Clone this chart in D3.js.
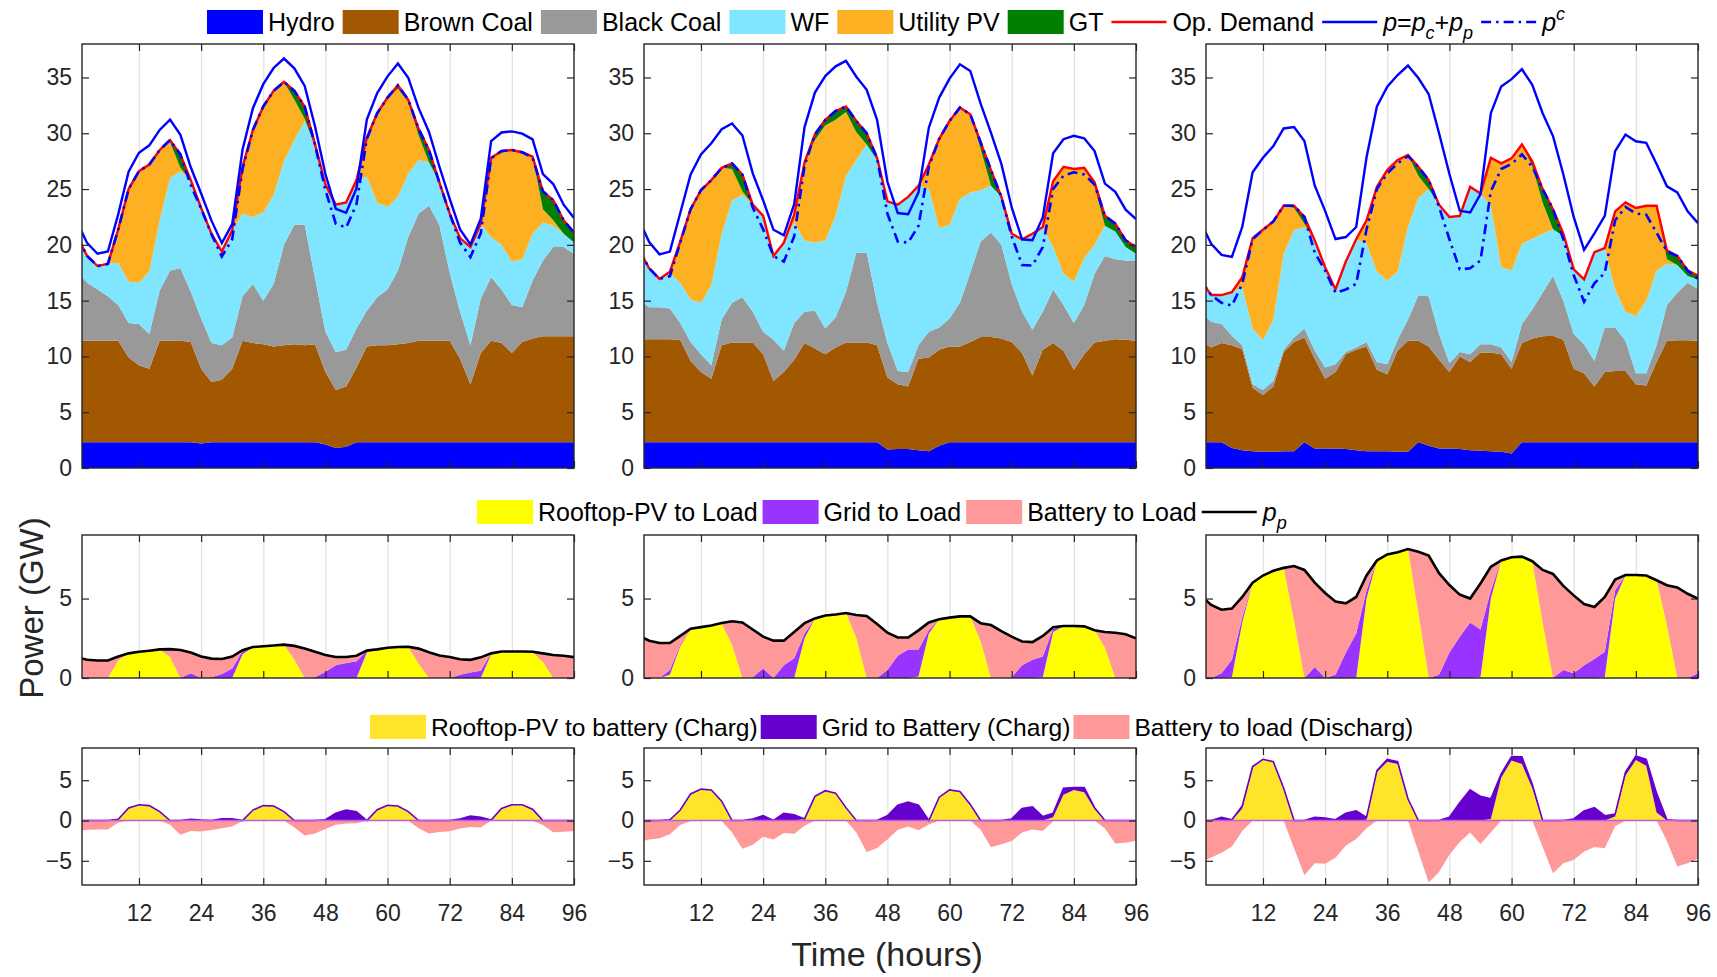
<!DOCTYPE html>
<html>
<head>
<meta charset="utf-8">
<script src="https://d3js.org/d3.v7.min.js"></script>
<style>
  body { margin: 0; background: #fff; }
  svg { font-family: "Liberation Sans", Arial, Helvetica, sans-serif; }
</style>
</head>
<body>
<div id="chart"></div>
<script>
// sample times (hours), every 2 h
var hours = d3.range(0, 97, 2);
var xTicks = [12, 24, 36, 48, 60, 72, 84, 96];

// ---------- generation (GW), one sub-array per case ----------
var hydro = [
  [2.3,2.3,2.3,2.3,2.3,2.3,2.3,2.3,2.3,2.3,2.3,2.3,2.2,2.3,2.3,2.3,2.3,2.3,2.3,2.3,2.3,2.3,2.3,2.3,2.1,1.8,1.9,2.3,2.3,2.3,2.3,2.3,2.3,2.3,2.3,2.3,2.3,2.3,2.3,2.3,2.3,2.3,2.3,2.3,2.3,2.3,2.3,2.3,2.3],
  [2.3,2.3,2.3,2.3,2.3,2.3,2.3,2.3,2.3,2.3,2.3,2.3,2.3,2.3,2.3,2.3,2.3,2.3,2.3,2.3,2.3,2.3,2.3,2.3,1.65,1.7,1.7,1.6,1.5,2.0,2.3,2.3,2.3,2.3,2.3,2.3,2.3,2.3,2.3,2.3,2.3,2.3,2.3,2.3,2.3,2.3,2.3,2.3,2.3],
  [2.3,2.3,2.3,1.8,1.6,1.5,1.45,1.45,1.5,1.5,2.3,1.75,1.75,1.75,1.7,1.6,1.5,1.5,1.5,1.45,1.45,2.3,2.0,1.75,1.75,1.7,1.6,1.55,1.5,1.45,1.3,2.3,2.3,2.3,2.3,2.3,2.3,2.3,2.3,2.3,2.3,2.3,2.3,2.3,2.3,2.3,2.3,2.3,2.3]
];
var brownCoal = [
  [9.1,9.1,9.1,9.1,9.1,7.6,6.9,6.6,9.1,9.1,9.1,9.0,6.7,5.4,5.6,6.6,9.1,8.9,8.8,8.6,8.7,8.8,8.7,8.8,6.5,5.2,5.4,6.7,8.6,8.7,8.7,8.8,8.9,9.1,9.1,9.1,9.1,7.5,5.2,8.0,9.1,8.9,8.0,9.0,9.3,9.5,9.5,9.5,9.5],
  [9.25,9.25,9.25,9.25,9.2,7.3,6.3,5.7,8.7,8.95,8.95,8.95,7.9,5.5,6.3,7.4,8.9,8.4,7.9,8.5,8.95,8.95,8.95,8.7,6.45,5.8,5.6,8.2,8.4,8.6,8.6,8.6,9.0,9.45,9.45,9.3,9.0,8.0,6.0,8.3,8.9,8.2,6.5,7.9,8.95,9.1,9.25,9.2,9.1],
  [9.1,8.5,8.9,9.2,9.05,5.7,5.1,5.85,8.9,9.8,9.4,8.05,6.25,6.85,8.5,9.0,9.4,7.3,6.9,9.05,9.95,9.1,8.9,7.95,6.85,8.3,7.9,8.8,8.85,8.75,7.6,8.9,9.3,9.5,9.55,9.2,6.6,6.2,5.0,6.3,6.4,6.4,5.2,5.1,7.2,9.1,9.15,9.15,9.1]
];
var blackCoal = [
  [6.2,5.2,4.6,4.0,3.2,3.1,3.7,3.1,4.5,6.3,6.5,4.5,4.5,3.5,3.1,2.8,4.0,5.3,3.9,5.6,9.0,10.7,10.8,5.9,3.6,3.4,3.3,3.5,3.2,4.3,5.0,6.6,9.5,11.4,12.1,10.4,6.1,4.2,3.5,4.9,5.7,4.8,4.3,3.1,5.2,6.8,8.0,8.0,7.4],
  [3.55,2.85,2.85,2.75,1.5,1.7,1.6,1.2,2.3,3.55,4.05,2.75,2.0,3.7,1.9,3.3,2.8,3.4,2.3,2.7,4.55,8.05,8.05,3.8,3.1,1.2,1.3,1.2,2.3,2.0,2.5,3.9,6.2,8.55,9.35,8.4,5.2,3.7,4.1,3.4,4.8,4.1,4.2,4.4,6.15,7.6,7.15,7.1,7.2],
  [2.6,2.3,1.7,0.85,0.35,0.3,0.45,0.5,0.2,0.4,0.8,0.7,1.0,0.7,0.2,0.2,0.4,0.7,0.9,1.0,1.9,4.05,4.5,2.3,0.8,0.4,0.7,0.75,0.75,0.6,0.6,1.7,2.6,3.9,5.35,3.5,3.1,2.6,2.3,4.0,3.9,2.7,1.0,1.1,1.5,3.2,4.25,5.15,4.65]
];
var windFarm = [
  [2.9,2.4,2.1,2.9,3.8,3.7,3.7,5.6,6.3,8.3,8.7,10.0,9.9,9.8,8.4,9.6,7.4,6.0,7.9,8.0,7.5,7.6,9.3,11.8,13.2,13.2,13.2,13.3,12.0,8.5,7.4,6.6,5.7,4.8,3.9,3.8,5.3,6.6,8.8,6.7,3.6,4.0,3.9,4.3,4.2,3.4,1.9,1.2,1.0],
  [4.1,3.5,2.55,3.1,3.6,3.8,4.6,7.2,7.7,9.2,9.2,9.6,10.4,7.5,9.7,9.0,6.4,6.1,7.9,9.1,10.4,8.3,9.7,12.8,12.7,14.9,15.7,14.3,12.8,8.9,8.4,9.3,7.2,4.6,4.2,4.3,4.5,6.5,8.6,7.6,3.8,2.8,3.7,4.2,2.6,2.7,2.5,1.2,0.6],
  [2.8,2.4,2.6,3.9,5.2,5.0,4.45,5.5,8.6,9.6,9.1,9.9,9.0,6.7,8.1,9.7,8.8,8.1,7.5,6.1,8.3,8.75,9.6,11.6,13.1,12.2,15.0,13.5,12.4,7.2,8.2,7.2,6.35,5.3,4.2,5.8,5.8,5.8,9.75,7.1,3.4,2.6,5.1,6.5,6.7,3.7,2.5,0.6,0.85]
];
var utilityPV = [
  [0,0,0,0,3.0,8.3,10.0,9.6,6.3,3.2,0.3,0,0,0,0,0,4.2,7.8,9.5,9.3,7.1,3.6,0.2,0,0,0,0,0,3.5,8.0,9.8,9.7,6.4,2.2,0,0,0,0,0,0,7.1,8.4,10.0,9.6,6.9,1.2,0.5,0,0],
  [0,0,0,0.2,3.7,8.1,10.1,9.4,5.9,2.8,0.3,0,0,0,0,0.7,7.0,9.2,10.3,8.6,5.7,2.5,0,0,0,0,0,0,2.2,8.0,9.3,8.2,7.0,3.7,0,0,0,0,0,0,5.9,9.6,10.1,8.1,5.2,0,0,0,0],
  [0,0,0,0,0.9,8.1,9.9,8.8,4.3,2.0,0.3,0,0,0,0,0,2.1,7.6,9.9,10.0,6.45,2.0,0,0,0,0,0,0,4.3,9.3,10.05,8.9,6.5,2.8,0,0,0,0,0,0,7.0,9.8,9.7,8.5,5.8,0.4,0,0,0]
];
var gasTurbine = [
  [0.3,0,0,0,0,0,0,0,0,0.2,1.2,0,0,0,0,0,0,0,0,0,0,0.8,1.1,0.2,0,0,0,0,0,0,0,0.3,0.2,0.6,1.1,0,0,0,0,0,0,0,0,0,0,1.6,1.8,1.2,0.9],
  [0.4,0,0,0,0,0,0,0,0,0.5,1.5,0,0,0,0,0,0,0.5,0.5,0.8,0.5,1.0,1.0,0.2,0,0,0,0,0,0,0,0,0,0.6,1.4,0,0,0,0,0,0,0,0,0,0.4,0.9,0.7,0.6,0.6],
  [0,0,0,0,0,0,0,0,0,0.2,0.6,0,0,0,0,0,0,0,0,0,0,0.8,0.8,0,0,0,0,0,0,0,0,0,0.45,1.2,1.8,0.2,0,0,0,0,0,0,0,0,0,0.8,0.8,0.5,0.35]
];

// ---------- prosumer supply to load (GW) ----------
var rooftopToLoad = [
  [0,0,0,0,1.1,1.55,1.65,1.72,1.8,1.3,0,0,0,0,0,0,1.5,1.95,2.0,2.05,2.1,1.15,0,0,0,0,0,0,1.6,1.8,1.9,1.95,1.95,0.9,0,0,0,0,0,0,1.5,1.65,1.65,1.65,1.62,1.0,0,0,0],
  [0,0,0,0.2,2.0,3.05,3.2,3.3,3.4,2.1,0,0,0,0,0,0,2.5,3.75,3.93,4.0,4.09,2.5,0,0,0,0,0,0.1,2.8,3.7,3.8,3.88,3.88,2.3,0,0,0,0,0,0.05,2.9,3.27,3.27,3.25,3.0,1.9,0,0,0],
  [0,0,0,0.05,3.5,6.0,6.45,6.75,6.9,3.6,0,0,0,0,0,0,5.0,7.4,7.78,7.92,8.12,4.1,0,0,0,0,0,0.05,5.0,7.4,7.6,7.64,7.35,3.5,0,0,0,0,0,0.05,5.0,6.48,6.48,6.45,6.15,3.3,0,0,0]
];
var gridToLoad = [
  [0,0,0,0,0,0,0,0,0,0,0,0.3,0,0.05,0.25,0.6,0.2,0,0,0,0,0,0,0.05,0.4,0.8,0.95,1.05,0.1,0,0,0,0,0,0,0,0,0.2,0.35,0.45,0.05,0,0,0,0,0,0,0,0],
  [0,0,0,0.3,0.1,0,0,0,0,0,0,0.05,0.6,0,0.8,1.25,0.3,0,0,0,0,0,0,0,0.5,1.4,1.8,1.7,0.2,0,0,0,0,0,0,0,0.05,0.8,1.15,1.3,0.2,0,0,0,0,0,0,0,0],
  [0,0,0.3,1.1,0.3,0,0,0,0,0,0,0.7,0,0.2,1.6,2.8,0.5,0,0,0,0,0,0,0.2,1.6,2.6,3.5,3.0,0.5,0,0,0,0,0,0,0.5,0.3,0.8,1.2,1.6,0.5,0,0,0,0,0,0,0,0.3]
];
var batteryToLoad = [
  [1.3,1.15,1.1,1.1,0.25,0,0,0,0,0.52,1.76,1.3,1.35,1.17,0.95,0.75,0.05,0,0,0,0,0.87,1.85,1.6,1.05,0.52,0.37,0.35,0.03,0,0,0,0.02,0.95,1.62,1.42,1.32,0.98,0.79,0.85,0,0.02,0.02,0.02,0.03,0.55,1.45,1.4,1.31],
  [2.65,2.35,2.2,1.7,0.55,0.05,0,0.01,0.06,1.47,3.5,3.0,2.0,2.35,1.55,1.65,0.65,0,0,0,0,1.47,3.9,3.4,2.35,1.15,0.75,1.2,0.5,0,0,0,0,1.15,3.33,2.95,2.55,1.5,1.11,1.3,0.1,0,0,0,0,0.99,2.85,2.75,2.5],
  [5.2,4.6,4.0,3.22,1.3,0,0,0,0.03,3.45,6.8,5.3,5.35,4.62,3.1,2.3,0.95,0,0,0,0,3.85,7.7,6.4,4.25,2.65,1.5,2.9,1.5,0,0,0,0,3.3,6.55,5.3,4.9,3.85,3.27,3.45,0.7,0,0,0,0,2.54,5.7,5.3,4.7]
];

// ---------- battery charging (GW) ----------
var rooftopToBattery = [
  [0,0,0,0,0.15,1.55,1.95,1.85,1.1,0,0,0,0,0,0,0,0,1.3,1.85,1.8,1.1,0,0,0,0,0,0,0,0,1.35,1.9,1.8,1.1,0,0,0,0,0,0,0,0.05,1.5,1.95,1.95,1.3,0,0,0,0],
  [0,0,0,0,1.3,3.3,3.9,3.8,2.4,0,0,0,0,0,0,0,0.2,3.0,3.7,3.4,1.6,0,0,0,0,0,0,0,0,2.9,3.8,3.6,2.0,0,0,0,0,0,0,0,0.4,3.2,3.8,3.5,1.4,0,0,0,0],
  [0,0,0,0,1.5,6.6,7.6,7.3,4.0,0,0,0,0,0,0,0,0.1,6.0,7.3,7.0,2.6,0,0,0,0,0,0,0,0.2,5.3,7.45,7.0,4.0,0,0,0,0,0,0,0,0.5,5.6,7.5,6.8,1.0,0,0,0,0]
];
var gridToBattery = [
  [0,0,0,0,0,0,0,0,0,0,0,0.15,0.05,0,0.2,0.2,0,0,0,0,0,0,0,0,0.1,0.9,1.3,1.1,0,0,0,0,0,0,0,0,0,0.2,0.55,0.4,0,0,0,0,0.1,0,0,0,0],
  [0,0,0,0.1,0,0,0,0,0,0,0,0.2,0.6,0,0.9,0.7,0,0,0,0,0,0,0,0,0.6,1.9,2.3,1.9,0,0,0,0,0,0,0,0,0.2,1.5,1.7,0.5,0.5,0.8,0.3,0.6,0.2,0,0,0,0],
  [0,0,0.4,0.1,0.3,0.1,0,0,0,0,0,0.4,0.3,0.1,0.9,1.2,0.3,0.2,0.3,0.3,0.1,0,0,0,0.4,2.2,3.8,3.0,2.5,0.5,0.5,0.9,0.5,0,0,0,0.2,1.2,1.6,0.6,0.3,0.4,0.5,0.8,2.4,0.1,0,0,0]
];

// ---------- layout ----------
var W = 1717, H = 977;
var colLeft = [82, 644, 1206], colWidth = 492;
var rowBox = [
  { top: 44,  bottom: 468, domain: [0, 38],  ticks: [0, 5, 10, 15, 20, 25, 30, 35] },
  { top: 535, bottom: 678, domain: [0, 9],   ticks: [0, 5] },
  { top: 748, bottom: 885, domain: [-8, 9],  ticks: [-5, 0, 5] }
];
var ink = "#262626";

var genKeys = ["hydro", "brownCoal", "blackCoal", "windFarm", "utilityPV", "gasTurbine"];
var genData = { hydro: hydro, brownCoal: brownCoal, blackCoal: blackCoal, windFarm: windFarm, utilityPV: utilityPV, gasTurbine: gasTurbine };
var genColor = { hydro: "#0000ff", brownCoal: "#a25800", blackCoal: "#999999", windFarm: "#80e5ff", utilityPV: "#fdb022", gasTurbine: "#008000" };
var proKeys = ["rooftopToLoad", "gridToLoad", "batteryToLoad"];
var proData = { rooftopToLoad: rooftopToLoad, gridToLoad: gridToLoad, batteryToLoad: batteryToLoad };
var proColor = { rooftopToLoad: "#ffff00", gridToLoad: "#9933ff", batteryToLoad: "#ff9999" };
var chgKeys = ["rooftopToBattery", "gridToBattery"];
var chgData = { rooftopToBattery: rooftopToBattery, gridToBattery: gridToBattery };
var chgColor = { rooftopToBattery: "#ffe52a", gridToBattery: "#6600cc" };

var svg = d3.select("#chart").append("svg").attr("width", W).attr("height", H);
var defs = svg.append("defs");

function tableFor(keys, src, c) {
  return hours.map(function(t, i) {
    var row = { t: t };
    keys.forEach(function(k) { row[k] = src[k][c][i]; });
    return row;
  });
}

for (var c = 0; c < 3; c++) {
  var x = d3.scaleLinear().domain([1, 96]).range([colLeft[c], colLeft[c] + colWidth]);

  for (var r = 0; r < 3; r++) {
    var rb = rowBox[r];
    var y = d3.scaleLinear().domain(rb.domain).range([rb.bottom, rb.top]);
    var g = svg.append("g");
    var clipId = "clip-" + r + "-" + c;
    defs.append("clipPath").attr("id", clipId).append("rect")
      .attr("x", x.range()[0]).attr("y", rb.top)
      .attr("width", colWidth).attr("height", rb.bottom - rb.top);

    // vertical grid
    var grid = g.append("g").attr("transform", "translate(0," + rb.bottom + ")")
      .call(d3.axisBottom(x).tickValues([12, 24, 36, 48, 60, 72, 84]).tickSize(-(rb.bottom - rb.top)).tickFormat(""));
    grid.select(".domain").remove();
    grid.selectAll("line").attr("stroke", "#e3e3e3").attr("stroke-width", 1.3);

    var plot = g.append("g").attr("clip-path", "url(#" + clipId + ")");
    var area = d3.area().x(function(d) { return x(d.data.t); })
      .y0(function(d) { return y(d[0]); }).y1(function(d) { return y(d[1]); });
    var line = d3.line().x(function(d) { return x(d.t); }).y(function(d) { return y(d.v); });

    if (r === 0) {
      var gt = tableFor(genKeys, genData, c);
      var st = d3.stack().keys(genKeys)(gt);
      plot.selectAll("path.a").data(st).enter().append("path")
        .attr("d", area).attr("fill", function(s) { return genColor[s.key]; });

      var opDemand = [], pc = [], p = [];
      hours.forEach(function(t, i) {
        var dem = d3.sum(genKeys, function(k) { return genData[k][c][i]; });
        var pp = rooftopToLoad[c][i] + gridToLoad[c][i] + batteryToLoad[c][i];
        var pcv = dem - gridToLoad[c][i] - gridToBattery[c][i];
        opDemand.push({ t: t, v: dem });
        pc.push({ t: t, v: pcv });
        p.push({ t: t, v: pcv + pp });
      });
      plot.append("path").attr("d", line(opDemand)).attr("fill", "none").attr("stroke", "#ff0000").attr("stroke-width", 2.4);
      plot.append("path").attr("d", line(p)).attr("fill", "none").attr("stroke", "#0000ff").attr("stroke-width", 2.4);
      plot.append("path").attr("d", line(pc)).attr("fill", "none").attr("stroke", "#0000ff").attr("stroke-width", 2.6)
        .attr("stroke-dasharray", "10,5,2.5,5");
    } else if (r === 1) {
      var pt = tableFor(proKeys, proData, c);
      var sp = d3.stack().keys(proKeys)(pt);
      plot.selectAll("path.a").data(sp).enter().append("path")
        .attr("d", area).attr("fill", function(s) { return proColor[s.key]; });
      var ppLine = hours.map(function(t, i) {
        return { t: t, v: rooftopToLoad[c][i] + gridToLoad[c][i] + batteryToLoad[c][i] };
      });
      plot.append("path").attr("d", line(ppLine)).attr("fill", "none").attr("stroke", "#000").attr("stroke-width", 2.6);
    } else {
      var dis = hours.map(function(t, i) { return { t: t, v: -batteryToLoad[c][i] }; });
      plot.append("path")
        .attr("d", d3.area().x(function(d) { return x(d.t); }).y0(y(0)).y1(function(d) { return y(d.v); })(dis))
        .attr("fill", "#ff9999");
      var ct = tableFor(chgKeys, chgData, c);
      var sc = d3.stack().keys(chgKeys)(ct);
      plot.selectAll("path.a").data(sc).enter().append("path")
        .attr("d", area).attr("fill", function(s) { return chgColor[s.key]; });
      plot.append("path")
        .attr("d", d3.line().x(function(d) { return x(d.data.t); }).y(function(d) { return y(d[1]); })(sc[1]))
        .attr("fill", "none").attr("stroke", "#6600cc").attr("stroke-width", 1.6);
      plot.append("line").attr("x1", x(1)).attr("x2", x(96)).attr("y1", y(0)).attr("y2", y(0))
        .attr("stroke", "#c05ee8").attr("stroke-width", 1.6);
    }

    // axes: inward ticks on all four sides
    var yl = g.append("g").attr("transform", "translate(" + x(1) + ",0)")
      .call(d3.axisLeft(y).tickValues(rb.ticks).tickSize(-7).tickPadding(10));
    var yr = g.append("g").attr("transform", "translate(" + x(96) + ",0)")
      .call(d3.axisRight(y).tickValues(rb.ticks).tickSize(-7).tickFormat(""));
    var xt = g.append("g").attr("transform", "translate(0," + rb.top + ")")
      .call(d3.axisTop(x).tickValues(xTicks).tickSize(-7).tickFormat(""));
    var xb = g.append("g").attr("transform", "translate(0," + rb.bottom + ")")
      .call(d3.axisBottom(x).tickValues(xTicks).tickSize(-7).tickPadding(20)
        .tickFormat(r === 2 ? d3.format("d") : ""));
    [yl, yr, xt, xb].forEach(function(a) {
      a.select(".domain").remove();
      a.selectAll("line").attr("stroke", ink).attr("stroke-width", 1.2);
      a.selectAll("text").attr("fill", ink).attr("font-size", 23)
        .attr("font-family", "'Liberation Sans', Arial, sans-serif");
    });

    g.append("rect").attr("x", x(1)).attr("y", rb.top)
      .attr("width", colWidth).attr("height", rb.bottom - rb.top)
      .attr("fill", "none").attr("stroke", ink).attr("stroke-width", 1.4);
  }
}

// ---------- legends ----------
function legend(x0, yc, fs, gap, items) {
  var g = svg.append("g");
  var xpos = x0;
  items.forEach(function(it) {
    if (it.box) {
      g.append("rect").attr("x", xpos).attr("y", yc - 12).attr("width", 56).attr("height", 24).attr("fill", it.box);
    } else {
      g.append("line").attr("x1", xpos).attr("x2", xpos + 55).attr("y1", yc).attr("y2", yc)
        .attr("stroke", it.line).attr("stroke-width", it.width || 2.4)
        .attr("stroke-dasharray", it.dash || null);
    }
    xpos += 61;
    var t = g.append("text").attr("x", xpos).attr("y", yc + 9).attr("font-size", fs).attr("fill", "#000");
    var shift = 0;
    it.parts.forEach(function(pt) {
      var want = pt.sub ? 8 : (pt.sup ? -11 : 0);
      t.append("tspan").text(pt.t)
        .attr("dy", want - shift)
        .attr("font-size", (pt.sub || pt.sup) ? 18 : fs)
        .attr("font-style", pt.i ? "italic" : null);
      shift = want;
    });
    xpos += t.node().getComputedTextLength() + gap;
  });
}

legend(207, 22, 25, 8, [
  { box: genColor.hydro, parts: [{ t: "Hydro" }] },
  { box: genColor.brownCoal, parts: [{ t: "Brown Coal" }] },
  { box: genColor.blackCoal, parts: [{ t: "Black Coal" }] },
  { box: genColor.windFarm, parts: [{ t: "WF" }] },
  { box: genColor.utilityPV, parts: [{ t: "Utility PV" }] },
  { box: genColor.gasTurbine, parts: [{ t: "GT" }] },
  { line: "#ff0000", parts: [{ t: "Op. Demand" }] },
  { line: "#0000ff", parts: [{ t: "p", i: 1 }, { t: "=" }, { t: "p", i: 1 }, { t: "c", i: 1, sub: 1 }, { t: "+" }, { t: "p", i: 1 }, { t: "p", i: 1, sub: 1 }] },
  { line: "#0000ff", dash: "10,5,2.5,5", width: 2.6, parts: [{ t: "p", i: 1 }, { t: "c", i: 1, sup: 1 }] }
]);

legend(477, 512, 25, 5, [
  { box: proColor.rooftopToLoad, parts: [{ t: "Rooftop-PV to Load" }] },
  { box: proColor.gridToLoad, parts: [{ t: "Grid to Load" }] },
  { box: proColor.batteryToLoad, parts: [{ t: "Battery to Load" }] },
  { line: "#000000", width: 2.6, parts: [{ t: "p", i: 1 }, { t: "p", i: 1, sub: 1 }] }
]);

legend(370, 727, 24.6, 3, [
  { box: chgColor.rooftopToBattery, parts: [{ t: "Rooftop-PV to battery (Charg)" }] },
  { box: chgColor.gridToBattery, parts: [{ t: "Grid to Battery (Charg)" }] },
  { box: "#ff9999", parts: [{ t: "Battery to load (Discharg)" }] }
]);

// ---------- axis titles ----------
svg.append("text").attr("transform", "translate(43,608) rotate(-90)")
  .attr("text-anchor", "middle").attr("font-size", 33).attr("fill", ink)
  .text("Power (GW)");
svg.append("text").attr("x", 887).attr("y", 966)
  .attr("text-anchor", "middle").attr("font-size", 34).attr("fill", ink)
  .text("Time (hours)");
</script>
</body>
</html>
